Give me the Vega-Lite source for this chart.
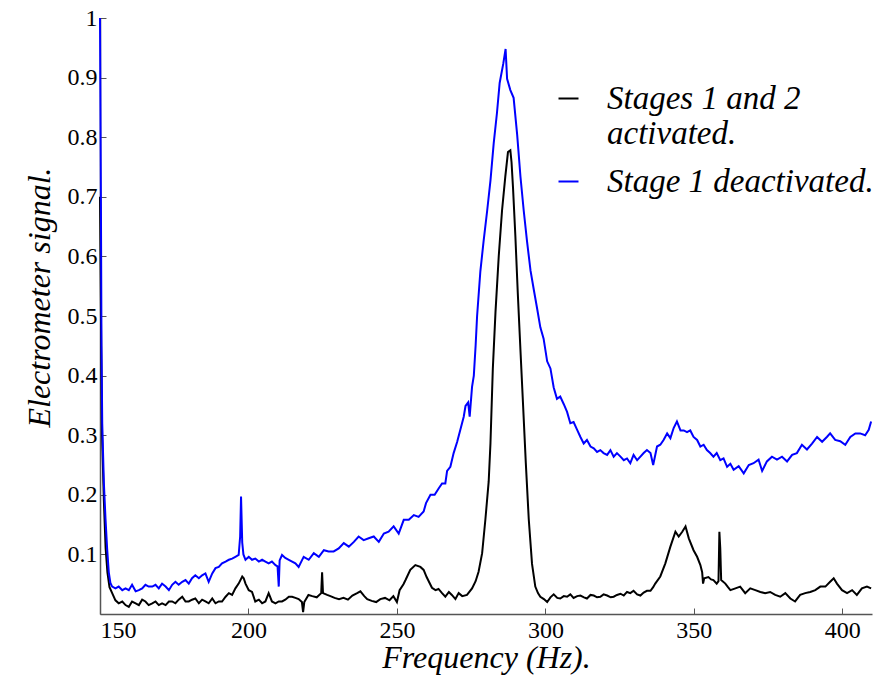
{
  "$schema": "https://vega.github.io/schema/vega-lite/v6.json",
  "width": 772,
  "height": 596,
  "autosize": {"type": "none"},
  "padding": {"left": 100, "top": 18, "right": 17, "bottom": 61},
  "background": "white",
  "config": {
    "view": {"stroke": null},
    "font": "Liberation Serif",
    "axis": {
      "grid": false,
      "domainColor": "#555555",
      "domainWidth": 1.5,
      "tickColor": "#555555",
      "tickWidth": 1,
      "tickSize": -6,
      "labelFont": "Liberation Serif",
      "labelFontSize": 24,
      "labelColor": "black",
      "titleFont": "Liberation Serif",
      "titleFontStyle": "italic",
      "titleFontWeight": "normal",
      "titleFontSize": 32,
      "titleColor": "black"
    }
  },
  "datasets": {
    "activated": [
      {"f": 150.0, "v": 0.70}, {"f": 150.4, "v": 0.45}, {"f": 150.7, "v": 0.30}, {"f": 151.3, "v": 0.19},
      {"f": 151.9, "v": 0.11}, {"f": 152.5, "v": 0.07}, {"f": 153.2, "v": 0.045}, {"f": 154.1, "v": 0.035},
      {"f": 155.2, "v": 0.023}, {"f": 156.3, "v": 0.018}, {"f": 157.5, "v": 0.021}, {"f": 158.6, "v": 0.015},
      {"f": 159.7, "v": 0.012}, {"f": 160.8, "v": 0.021}, {"f": 162.0, "v": 0.018}, {"f": 163.1, "v": 0.015},
      {"f": 164.2, "v": 0.024}, {"f": 165.3, "v": 0.021}, {"f": 166.4, "v": 0.015}, {"f": 167.6, "v": 0.018},
      {"f": 168.7, "v": 0.021}, {"f": 169.8, "v": 0.015}, {"f": 170.9, "v": 0.018}, {"f": 172.1, "v": 0.015},
      {"f": 173.2, "v": 0.021}, {"f": 174.3, "v": 0.021}, {"f": 175.4, "v": 0.018}, {"f": 176.5, "v": 0.024},
      {"f": 177.7, "v": 0.029}, {"f": 178.8, "v": 0.021}, {"f": 179.9, "v": 0.021}, {"f": 181.0, "v": 0.024},
      {"f": 182.1, "v": 0.026}, {"f": 183.3, "v": 0.018}, {"f": 184.4, "v": 0.024}, {"f": 185.5, "v": 0.021},
      {"f": 186.6, "v": 0.018}, {"f": 187.8, "v": 0.026}, {"f": 188.9, "v": 0.018}, {"f": 190.0, "v": 0.021},
      {"f": 191.1, "v": 0.021}, {"f": 192.3, "v": 0.029}, {"f": 193.4, "v": 0.035}, {"f": 194.5, "v": 0.032},
      {"f": 195.6, "v": 0.043}, {"f": 196.7, "v": 0.051}, {"f": 197.9, "v": 0.063}, {"f": 198.4, "v": 0.060},
      {"f": 199.0, "v": 0.051}, {"f": 200.1, "v": 0.040}, {"f": 201.2, "v": 0.037}, {"f": 202.3, "v": 0.021},
      {"f": 203.5, "v": 0.024}, {"f": 204.6, "v": 0.018}, {"f": 205.7, "v": 0.021}, {"f": 206.8, "v": 0.035},
      {"f": 207.9, "v": 0.021}, {"f": 209.1, "v": 0.018}, {"f": 210.2, "v": 0.021}, {"f": 211.3, "v": 0.021},
      {"f": 212.4, "v": 0.024}, {"f": 213.6, "v": 0.029}, {"f": 214.7, "v": 0.029}, {"f": 215.8, "v": 0.027},
      {"f": 216.9, "v": 0.025}, {"f": 218.0, "v": 0.020}, {"f": 218.4, "v": 0.003}, {"f": 218.8, "v": 0.020},
      {"f": 220.2, "v": 0.032}, {"f": 221.5, "v": 0.030}, {"f": 223.0, "v": 0.028}, {"f": 224.5, "v": 0.035},
      {"f": 224.8, "v": 0.070}, {"f": 225.1, "v": 0.035}, {"f": 226.5, "v": 0.032}, {"f": 227.6, "v": 0.030},
      {"f": 229.0, "v": 0.027}, {"f": 230.5, "v": 0.025}, {"f": 232.0, "v": 0.027}, {"f": 233.5, "v": 0.024},
      {"f": 235.0, "v": 0.031}, {"f": 236.6, "v": 0.035}, {"f": 237.7, "v": 0.038}, {"f": 239.0, "v": 0.030},
      {"f": 240.0, "v": 0.025}, {"f": 241.5, "v": 0.022}, {"f": 243.0, "v": 0.020}, {"f": 244.4, "v": 0.025},
      {"f": 246.0, "v": 0.027}, {"f": 247.5, "v": 0.023}, {"f": 248.8, "v": 0.030}, {"f": 250.0, "v": 0.020},
      {"f": 250.9, "v": 0.040}, {"f": 252.2, "v": 0.050}, {"f": 252.9, "v": 0.057}, {"f": 254.5, "v": 0.074},
      {"f": 256.2, "v": 0.082}, {"f": 257.9, "v": 0.079}, {"f": 259.0, "v": 0.074}, {"f": 260.0, "v": 0.062},
      {"f": 261.8, "v": 0.044}, {"f": 263.0, "v": 0.040}, {"f": 264.0, "v": 0.042}, {"f": 265.2, "v": 0.035},
      {"f": 266.3, "v": 0.029}, {"f": 267.5, "v": 0.037}, {"f": 268.5, "v": 0.032}, {"f": 269.7, "v": 0.025},
      {"f": 270.8, "v": 0.035}, {"f": 272.0, "v": 0.030}, {"f": 273.6, "v": 0.032}, {"f": 275.3, "v": 0.043},
      {"f": 276.5, "v": 0.055}, {"f": 277.5, "v": 0.071}, {"f": 278.7, "v": 0.102}, {"f": 279.8, "v": 0.159},
      {"f": 280.9, "v": 0.222}, {"f": 281.5, "v": 0.286}, {"f": 282.3, "v": 0.412}, {"f": 283.2, "v": 0.507},
      {"f": 284.3, "v": 0.601}, {"f": 285.4, "v": 0.677}, {"f": 286.5, "v": 0.734}, {"f": 287.4, "v": 0.775},
      {"f": 288.2, "v": 0.778}, {"f": 288.6, "v": 0.758}, {"f": 289.1, "v": 0.715}, {"f": 289.9, "v": 0.633},
      {"f": 290.7, "v": 0.539}, {"f": 291.6, "v": 0.443}, {"f": 292.5, "v": 0.349}, {"f": 293.4, "v": 0.254},
      {"f": 294.4, "v": 0.159}, {"f": 295.5, "v": 0.084}, {"f": 296.6, "v": 0.046}, {"f": 297.5, "v": 0.035},
      {"f": 298.3, "v": 0.029}, {"f": 299.5, "v": 0.025}, {"f": 300.6, "v": 0.020}, {"f": 301.7, "v": 0.028},
      {"f": 302.8, "v": 0.033}, {"f": 304.0, "v": 0.027}, {"f": 305.0, "v": 0.026}, {"f": 306.2, "v": 0.030},
      {"f": 307.3, "v": 0.029}, {"f": 308.4, "v": 0.033}, {"f": 309.5, "v": 0.027}, {"f": 310.7, "v": 0.030},
      {"f": 311.8, "v": 0.031}, {"f": 313.0, "v": 0.028}, {"f": 314.0, "v": 0.026}, {"f": 315.2, "v": 0.032},
      {"f": 316.3, "v": 0.031}, {"f": 317.4, "v": 0.028}, {"f": 318.5, "v": 0.029}, {"f": 319.6, "v": 0.033},
      {"f": 320.8, "v": 0.031}, {"f": 322.0, "v": 0.028}, {"f": 323.0, "v": 0.029}, {"f": 324.1, "v": 0.032},
      {"f": 325.3, "v": 0.034}, {"f": 326.4, "v": 0.031}, {"f": 327.5, "v": 0.037}, {"f": 328.6, "v": 0.035},
      {"f": 329.7, "v": 0.039}, {"f": 330.9, "v": 0.033}, {"f": 332.0, "v": 0.031}, {"f": 333.1, "v": 0.036},
      {"f": 334.2, "v": 0.039}, {"f": 335.4, "v": 0.039}, {"f": 336.3, "v": 0.045}, {"f": 337.0, "v": 0.051},
      {"f": 338.7, "v": 0.063}, {"f": 340.4, "v": 0.085}, {"f": 342.1, "v": 0.113}, {"f": 343.8, "v": 0.138},
      {"f": 344.9, "v": 0.130}, {"f": 346.1, "v": 0.138}, {"f": 347.2, "v": 0.147}, {"f": 348.3, "v": 0.127},
      {"f": 349.9, "v": 0.107}, {"f": 351.1, "v": 0.096}, {"f": 352.2, "v": 0.082}, {"f": 352.8, "v": 0.070},
      {"f": 353.1, "v": 0.051}, {"f": 353.5, "v": 0.060}, {"f": 354.9, "v": 0.062}, {"f": 355.8, "v": 0.058},
      {"f": 356.6, "v": 0.057}, {"f": 357.7, "v": 0.051}, {"f": 358.3, "v": 0.055}, {"f": 358.6, "v": 0.138},
      {"f": 358.9, "v": 0.110}, {"f": 359.2, "v": 0.057}, {"f": 360.6, "v": 0.051}, {"f": 361.5, "v": 0.045},
      {"f": 362.3, "v": 0.040}, {"f": 364.0, "v": 0.043}, {"f": 365.6, "v": 0.046}, {"f": 367.3, "v": 0.035},
      {"f": 369.0, "v": 0.043}, {"f": 370.7, "v": 0.040}, {"f": 372.4, "v": 0.037}, {"f": 374.0, "v": 0.035},
      {"f": 375.7, "v": 0.037}, {"f": 377.4, "v": 0.032}, {"f": 379.1, "v": 0.029}, {"f": 380.8, "v": 0.035},
      {"f": 382.5, "v": 0.026}, {"f": 384.1, "v": 0.021}, {"f": 385.8, "v": 0.032}, {"f": 387.5, "v": 0.035},
      {"f": 389.2, "v": 0.037}, {"f": 390.9, "v": 0.040}, {"f": 392.6, "v": 0.046}, {"f": 394.3, "v": 0.046},
      {"f": 395.9, "v": 0.054}, {"f": 397.1, "v": 0.060}, {"f": 398.2, "v": 0.051}, {"f": 399.9, "v": 0.040},
      {"f": 401.6, "v": 0.035}, {"f": 403.3, "v": 0.040}, {"f": 404.9, "v": 0.032}, {"f": 406.6, "v": 0.043},
      {"f": 408.3, "v": 0.046}, {"f": 409.7, "v": 0.043}
    ],
    "deactivated": [
      {"f": 150.0, "v": 1.0}, {"f": 150.3, "v": 0.70}, {"f": 150.5, "v": 0.45}, {"f": 150.75, "v": 0.32},
      {"f": 151.3, "v": 0.22}, {"f": 151.85, "v": 0.16}, {"f": 152.4, "v": 0.11}, {"f": 152.96, "v": 0.07},
      {"f": 153.5, "v": 0.052}, {"f": 154.1, "v": 0.046}, {"f": 155.2, "v": 0.043}, {"f": 156.3, "v": 0.046},
      {"f": 157.5, "v": 0.040}, {"f": 158.6, "v": 0.043}, {"f": 159.7, "v": 0.040}, {"f": 160.8, "v": 0.049},
      {"f": 162.0, "v": 0.038}, {"f": 163.1, "v": 0.040}, {"f": 164.2, "v": 0.043}, {"f": 165.3, "v": 0.049},
      {"f": 166.4, "v": 0.046}, {"f": 167.6, "v": 0.046}, {"f": 168.7, "v": 0.049}, {"f": 169.8, "v": 0.043},
      {"f": 170.9, "v": 0.051}, {"f": 172.1, "v": 0.046}, {"f": 173.2, "v": 0.040}, {"f": 174.3, "v": 0.049},
      {"f": 175.4, "v": 0.054}, {"f": 176.5, "v": 0.049}, {"f": 177.7, "v": 0.054}, {"f": 178.8, "v": 0.057},
      {"f": 179.9, "v": 0.051}, {"f": 181.0, "v": 0.060}, {"f": 182.1, "v": 0.065}, {"f": 183.3, "v": 0.060},
      {"f": 184.4, "v": 0.065}, {"f": 185.5, "v": 0.068}, {"f": 186.6, "v": 0.054}, {"f": 187.8, "v": 0.068},
      {"f": 188.9, "v": 0.077}, {"f": 190.0, "v": 0.079}, {"f": 191.1, "v": 0.085}, {"f": 192.3, "v": 0.088},
      {"f": 193.4, "v": 0.091}, {"f": 194.5, "v": 0.093}, {"f": 195.6, "v": 0.096}, {"f": 196.7, "v": 0.099},
      {"f": 197.2, "v": 0.13}, {"f": 197.5, "v": 0.197}, {"f": 197.9, "v": 0.12}, {"f": 198.3, "v": 0.10},
      {"f": 199.0, "v": 0.091}, {"f": 200.1, "v": 0.096}, {"f": 201.2, "v": 0.091}, {"f": 202.3, "v": 0.093},
      {"f": 203.5, "v": 0.088}, {"f": 204.6, "v": 0.091}, {"f": 205.7, "v": 0.088}, {"f": 206.8, "v": 0.085},
      {"f": 207.9, "v": 0.088}, {"f": 209.1, "v": 0.082}, {"f": 209.8, "v": 0.080}, {"f": 210.2, "v": 0.046},
      {"f": 210.5, "v": 0.090}, {"f": 211.3, "v": 0.099}, {"f": 212.4, "v": 0.094}, {"f": 213.6, "v": 0.091},
      {"f": 214.7, "v": 0.088}, {"f": 215.8, "v": 0.085}, {"f": 216.9, "v": 0.079}, {"f": 218.0, "v": 0.090},
      {"f": 218.6, "v": 0.096}, {"f": 220.3, "v": 0.091}, {"f": 222.0, "v": 0.102}, {"f": 223.7, "v": 0.096},
      {"f": 225.4, "v": 0.107}, {"f": 227.0, "v": 0.105}, {"f": 228.7, "v": 0.105}, {"f": 230.4, "v": 0.110},
      {"f": 232.1, "v": 0.119}, {"f": 233.8, "v": 0.113}, {"f": 235.5, "v": 0.121}, {"f": 237.1, "v": 0.130},
      {"f": 238.8, "v": 0.124}, {"f": 240.5, "v": 0.127}, {"f": 242.2, "v": 0.130}, {"f": 243.9, "v": 0.121},
      {"f": 245.6, "v": 0.135}, {"f": 247.2, "v": 0.138}, {"f": 248.9, "v": 0.147}, {"f": 250.6, "v": 0.135},
      {"f": 252.3, "v": 0.158}, {"f": 254.0, "v": 0.158}, {"f": 255.7, "v": 0.166}, {"f": 257.3, "v": 0.163},
      {"f": 259.0, "v": 0.172}, {"f": 259.8, "v": 0.186}, {"f": 261.3, "v": 0.200}, {"f": 262.7, "v": 0.200},
      {"f": 264.1, "v": 0.211}, {"f": 265.2, "v": 0.219}, {"f": 266.3, "v": 0.219}, {"f": 266.9, "v": 0.240},
      {"f": 268.0, "v": 0.247}, {"f": 269.1, "v": 0.270}, {"f": 270.3, "v": 0.289}, {"f": 271.4, "v": 0.31},
      {"f": 272.5, "v": 0.331}, {"f": 273.1, "v": 0.349}, {"f": 274.0, "v": 0.355}, {"f": 274.5, "v": 0.331},
      {"f": 275.3, "v": 0.381}, {"f": 275.9, "v": 0.400}, {"f": 276.5, "v": 0.45}, {"f": 277.0, "v": 0.50},
      {"f": 278.1, "v": 0.575}, {"f": 279.2, "v": 0.626}, {"f": 280.4, "v": 0.677}, {"f": 281.5, "v": 0.727},
      {"f": 282.6, "v": 0.790}, {"f": 283.7, "v": 0.841}, {"f": 284.6, "v": 0.891}, {"f": 285.8, "v": 0.923},
      {"f": 286.6, "v": 0.948}, {"f": 287.1, "v": 0.898}, {"f": 288.2, "v": 0.879}, {"f": 289.3, "v": 0.866},
      {"f": 290.5, "v": 0.804}, {"f": 291.6, "v": 0.734}, {"f": 292.7, "v": 0.677}, {"f": 293.8, "v": 0.626},
      {"f": 295.0, "v": 0.576}, {"f": 296.1, "v": 0.544}, {"f": 297.2, "v": 0.513}, {"f": 298.3, "v": 0.481},
      {"f": 299.4, "v": 0.462}, {"f": 300.6, "v": 0.424}, {"f": 301.7, "v": 0.412}, {"f": 302.8, "v": 0.380},
      {"f": 303.9, "v": 0.361}, {"f": 305.0, "v": 0.365}, {"f": 306.2, "v": 0.352}, {"f": 307.3, "v": 0.339},
      {"f": 308.4, "v": 0.320}, {"f": 309.5, "v": 0.322}, {"f": 310.7, "v": 0.309}, {"f": 311.8, "v": 0.297},
      {"f": 312.9, "v": 0.286}, {"f": 314.0, "v": 0.292}, {"f": 315.2, "v": 0.281}, {"f": 316.3, "v": 0.278},
      {"f": 317.4, "v": 0.272}, {"f": 318.5, "v": 0.275}, {"f": 319.6, "v": 0.270}, {"f": 320.8, "v": 0.267},
      {"f": 321.9, "v": 0.275}, {"f": 323.0, "v": 0.264}, {"f": 324.1, "v": 0.270}, {"f": 325.3, "v": 0.264},
      {"f": 326.4, "v": 0.258}, {"f": 327.5, "v": 0.261}, {"f": 328.6, "v": 0.253}, {"f": 329.7, "v": 0.267},
      {"f": 330.9, "v": 0.258}, {"f": 332.0, "v": 0.264}, {"f": 333.1, "v": 0.270}, {"f": 334.2, "v": 0.275},
      {"f": 335.4, "v": 0.270}, {"f": 336.3, "v": 0.250}, {"f": 337.6, "v": 0.281}, {"f": 338.7, "v": 0.284},
      {"f": 339.8, "v": 0.292}, {"f": 341.0, "v": 0.303}, {"f": 342.1, "v": 0.295}, {"f": 343.2, "v": 0.312},
      {"f": 344.3, "v": 0.323}, {"f": 345.5, "v": 0.308}, {"f": 346.6, "v": 0.308}, {"f": 347.7, "v": 0.305},
      {"f": 348.8, "v": 0.308}, {"f": 349.9, "v": 0.297}, {"f": 351.1, "v": 0.292}, {"f": 352.2, "v": 0.281},
      {"f": 353.3, "v": 0.284}, {"f": 354.4, "v": 0.275}, {"f": 355.5, "v": 0.270}, {"f": 356.6, "v": 0.264},
      {"f": 357.7, "v": 0.270}, {"f": 358.9, "v": 0.258}, {"f": 360.0, "v": 0.261}, {"f": 361.2, "v": 0.247},
      {"f": 362.3, "v": 0.252}, {"f": 363.4, "v": 0.242}, {"f": 365.1, "v": 0.248}, {"f": 366.8, "v": 0.236},
      {"f": 368.5, "v": 0.250}, {"f": 370.1, "v": 0.253}, {"f": 371.8, "v": 0.259}, {"f": 373.0, "v": 0.240},
      {"f": 374.6, "v": 0.256}, {"f": 376.3, "v": 0.264}, {"f": 378.0, "v": 0.259}, {"f": 379.7, "v": 0.264},
      {"f": 381.4, "v": 0.256}, {"f": 383.1, "v": 0.267}, {"f": 384.7, "v": 0.270}, {"f": 386.4, "v": 0.284},
      {"f": 388.1, "v": 0.276}, {"f": 389.8, "v": 0.286}, {"f": 391.5, "v": 0.297}, {"f": 393.2, "v": 0.289},
      {"f": 394.8, "v": 0.297}, {"f": 395.9, "v": 0.303}, {"f": 397.6, "v": 0.292}, {"f": 399.3, "v": 0.290},
      {"f": 401.0, "v": 0.284}, {"f": 402.7, "v": 0.297}, {"f": 404.4, "v": 0.303}, {"f": 406.0, "v": 0.303},
      {"f": 407.7, "v": 0.300}, {"f": 408.9, "v": 0.309}, {"f": 409.7, "v": 0.323}
    ]
  },
  "encoding": {
    "x": {
      "field": "f",
      "type": "quantitative",
      "scale": {"domain": [150, 410], "nice": false, "zero": false},
      "axis": {
        "title": "Frequency (Hz).",
        "values": [150, 200, 250, 300, 350, 400],
        "labelFlush": true,
        "labelPadding": 10,
        "titlePadding": 0
      }
    },
    "y": {
      "field": "v",
      "type": "quantitative",
      "scale": {"domain": [0, 1], "nice": false},
      "axis": {
        "title": "Electrometer signal.",
        "values": [0.1, 0.2, 0.3, 0.4, 0.5, 0.6, 0.7, 0.8, 0.9, 1],
        "format": "~g",
        "labelPadding": 9,
        "titlePadding": 11,
        "titleY": 279
      }
    }
  },
  "layer": [
    {
      "data": {"name": "activated"},
      "mark": {"type": "line", "strokeWidth": 2},
      "encoding": {
        "color": {
          "datum": "Stages 1 and 2 activated.",
          "scale": {
            "domain": ["Stages 1 and 2 activated.", "Stage 1 deactivated."],
            "range": ["#000000", "#0000ff"]
          },
          "legend": {
            "orient": "none",
            "legendX": 452,
            "legendY": 64,
            "title": null,
            "labelFont": "Liberation Serif",
            "labelFontStyle": "italic",
            "labelFontSize": 33,
            "labelColor": "black",
            "labelLimit": 500,
            "labelOffset": 22,
            "labelBaseline": "middle",
            "labelExpr": "datum.label == 'Stages 1 and 2 activated.' ? ['Stages 1 and 2', 'activated.'] : datum.label",
            "symbolType": "stroke",
            "symbolSize": 400,
            "symbolStrokeWidth": 2,
            "rowPadding": 14
          }
        }
      }
    },
    {
      "data": {"name": "deactivated"},
      "mark": {"type": "line", "strokeWidth": 2},
      "encoding": {
        "color": {"datum": "Stage 1 deactivated."}
      }
    }
  ]
}
